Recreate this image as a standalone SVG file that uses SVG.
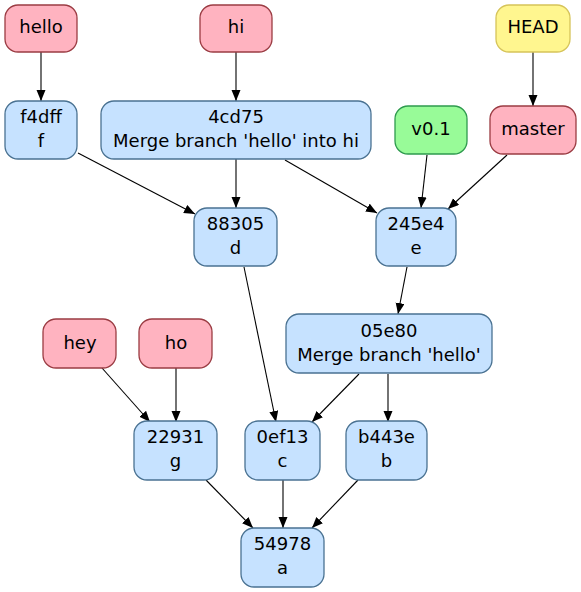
<svg xmlns="http://www.w3.org/2000/svg" width="581" height="592" viewBox="0 0 581 592">
<style>
text{font-family:"DejaVu Sans","Liberation Sans",sans-serif;font-size:18px;fill:#000;text-anchor:middle}
.ref{fill:#ffb3c0;stroke:#9b3c43;stroke-width:1.3}
.com{fill:#c6e2ff;stroke:#4a7292;stroke-width:1.3}
.head{fill:#fff68f;stroke:#d6c45a;stroke-width:1.3}
.tag{fill:#98fb98;stroke:#2e9a4e;stroke-width:1.3}
#edges path{fill:none;stroke:#000;stroke-width:1.1;marker-end:url(#ah)}
</style>
<defs>
<marker id="ah" markerUnits="userSpaceOnUse" markerWidth="12" markerHeight="10" refX="11" refY="4.5" orient="auto">
<path d="M0,0 L11,4.5 L0,9 Z" fill="#000"/>
</marker>
</defs>
<rect width="581" height="592" fill="#fff"/>
<g id="edges">
<path d="M41,52 L41,101"/>
<path d="M236,52 L236,101"/>
<path d="M533,52 L533,106"/>
<path d="M78,153 L195,214"/>
<path d="M236,159 L236,208"/>
<path d="M285,160 L377,213"/>
<path d="M427,155 L421,208"/>
<path d="M507,155 L448,209"/>
<path d="M407,267 L398,314"/>
<path d="M244,267 L276,422"/>
<path d="M359,374 L312,422"/>
<path d="M388,374 L388,422"/>
<path d="M102,368 L150,422"/>
<path d="M176,368 L176,422"/>
<path d="M206,480 L253,528"/>
<path d="M283,480 L283,528"/>
<path d="M358,480 L312,528"/>
</g>
<g id="hello"><rect class="ref" x="5" y="5" width="72" height="47" rx="13"/><text x="41" y="33">hello</text></g>
<g id="hi"><rect class="ref" x="200" y="5" width="72" height="47" rx="13"/><text x="236" y="33">hi</text></g>
<g id="HEAD"><rect class="head" x="496" y="5" width="74" height="47" rx="13"/><text x="533" y="33">HEAD</text></g>
<g id="f4dff"><rect class="com" x="5" y="101" width="72" height="58" rx="13"/><text x="41" y="123">f4dff</text><text x="41" y="147">f</text></g>
<g id="4cd75"><rect class="com" x="101" y="101" width="270" height="58" rx="13"/><text x="236" y="123">4cd75</text><text x="236" y="147">Merge branch 'hello' into hi</text></g>
<g id="v0.1"><rect class="tag" x="395" y="106" width="72" height="48" rx="13"/><text x="431" y="135">v0.1</text></g>
<g id="master"><rect class="ref" x="490" y="106" width="86" height="48" rx="13"/><text x="533" y="135">master</text></g>
<g id="88305"><rect class="com" x="194" y="208" width="83" height="58" rx="13"/><text x="235.5" y="230">88305</text><text x="235.5" y="254">d</text></g>
<g id="245e4"><rect class="com" x="376" y="208" width="80" height="58" rx="13"/><text x="416" y="230">245e4</text><text x="416" y="254">e</text></g>
<g id="05e80"><rect class="com" x="286" y="314" width="206" height="59" rx="13"/><text x="389" y="337">05e80</text><text x="389" y="361">Merge branch 'hello'</text></g>
<g id="hey"><rect class="ref" x="43" y="319" width="73" height="49" rx="13"/><text x="80" y="349">hey</text></g>
<g id="ho"><rect class="ref" x="139" y="319" width="73" height="49" rx="13"/><text x="176" y="349">ho</text></g>
<g id="22931"><rect class="com" x="134" y="421" width="83" height="59" rx="13"/><text x="175.5" y="443">22931</text><text x="175.5" y="467">g</text></g>
<g id="0ef13"><rect class="com" x="245" y="421" width="75" height="59" rx="13"/><text x="282.5" y="443">0ef13</text><text x="282.5" y="467">c</text></g>
<g id="b443e"><rect class="com" x="346" y="421" width="81" height="59" rx="13"/><text x="386.5" y="443">b443e</text><text x="386.5" y="467">b</text></g>
<g id="54978"><rect class="com" x="241" y="528" width="83" height="59" rx="13"/><text x="282.5" y="550">54978</text><text x="282.5" y="574">a</text></g>
</svg>
